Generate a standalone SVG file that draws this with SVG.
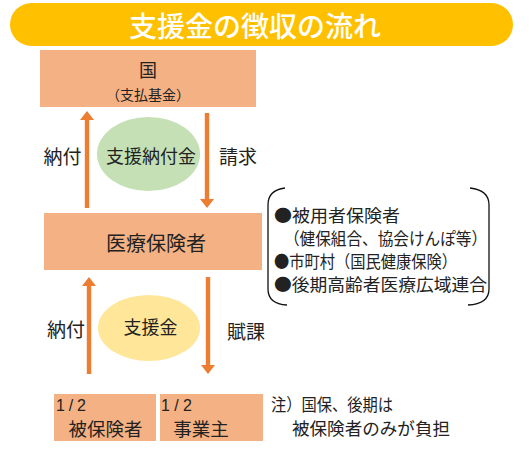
<svg xmlns="http://www.w3.org/2000/svg" width="529" height="454" viewBox="0 0 529 454">
<style>
  text { font-family: "Noto Sans CJK JP", "Noto Sans", sans-serif; fill: #222; dominant-baseline: central; }
  .num { font-family: "Liberation Sans", "Noto Sans", sans-serif; font-size: 16px; }
  .box { fill: #F4B183; }
  .arrow { fill: #ED7D31; }
  .c { text-anchor: middle; }
  .brace { fill: none; stroke: #111; stroke-width: 1.3; }
  .li { font-size: 17px; }
</style>
<rect width="529" height="454" fill="#fff"/>
<g id="title">
  <rect x="10" y="3" width="503" height="43" rx="21.5" fill="#FFC000"/>
  <text x="255" y="25" class="c" style="fill:#fff;font-size:28px;font-weight:500">支援金の徴収の流れ</text>
</g>
<g id="node-kuni">
  <rect class="box" x="40" y="50" width="216" height="57"/>
  <text x="148" y="69" class="c" style="font-size:18px">国</text>
  <text x="148" y="93.5" class="c" style="font-size:14px">（支払基金）</text>
</g>
<g id="node-shienkin-nofukin">
  <ellipse cx="148.5" cy="154" rx="51.5" ry="37" fill="#C5E0B4"/>
  <text x="151" y="155" class="c" style="font-size:18px">支援納付金</text>
</g>
<g id="node-iryohokensha">
  <rect class="box" x="44" y="213" width="218" height="57"/>
  <text x="156" y="242.5" class="c" style="font-size:20px">医療保険者</text>
</g>
<g id="node-hokensha-list">
  <path class="brace" d="M285,188 Q268,190 268,205 L268,289 Q268,304 287,305"/>
  <path class="brace" d="M470,188 Q489,190 489,205 L489,289 Q489,304 468,305"/>
  <text x="274" y="214" class="li" textLength="126" lengthAdjust="spacingAndGlyphs">●被用者保険者</text>
  <text x="284" y="237" class="li" textLength="203" lengthAdjust="spacingAndGlyphs">（健保組合、協会けんぽ等）</text>
  <text x="274" y="260" class="li" textLength="183" lengthAdjust="spacingAndGlyphs">●市町村（国民健康保険）</text>
  <text x="274" y="283" class="li" textLength="213" lengthAdjust="spacingAndGlyphs">●後期高齢者医療広域連合</text>
</g>
<g id="node-shienkin">
  <ellipse cx="149" cy="328" rx="51" ry="33" fill="#FFE699"/>
  <text x="150.5" y="326" class="c" style="font-size:18px">支援金</text>
</g>
<g id="node-hihokensha">
  <rect class="box" x="54" y="394" width="102" height="47"/>
  <text x="56" y="405" class="num" textLength="30" lengthAdjust="spacing">1/2</text>
  <text x="105.5" y="428" class="c" style="font-size:18.5px">被保険者</text>
</g>
<g id="node-jigyonushi">
  <rect class="box" x="160" y="394" width="103" height="47"/>
  <text x="161" y="405" class="num" textLength="31" lengthAdjust="spacing">1/2</text>
  <text x="201" y="428" class="c" style="font-size:18.5px">事業主</text>
</g>
<g id="note">
  <text x="271" y="403.5" style="font-size:17px" textLength="122" lengthAdjust="spacingAndGlyphs">注）国保、後期は</text>
  <text x="292" y="427" style="font-size:17.5px" textLength="158" lengthAdjust="spacingAndGlyphs">被保険者のみが負担</text>
</g>
<g id="connectors">
  <polygon class="arrow" points="84.8,208 84.8,120 80,120 87,111 94,120 89.2,120 89.2,208"/>
  <text x="62.5" y="155" class="c" style="font-size:19px">納付</text>
  <polygon class="arrow" points="204.8,113 204.8,199 200,199 207,208 214,199 209.2,199 209.2,113"/>
  <text x="238" y="155" class="c" style="font-size:19px">請求</text>
  <polygon class="arrow" points="86.8,374 86.8,286 82,286 89,277 96,286 91.2,286 91.2,374"/>
  <text x="66" y="328" class="c" style="font-size:19px">納付</text>
  <polygon class="arrow" points="205.8,277 205.8,365 201,365 208,374 215,365 210.2,365 210.2,277"/>
  <text x="246" y="330" class="c" style="font-size:19px">賦課</text>
</g>
</svg>
